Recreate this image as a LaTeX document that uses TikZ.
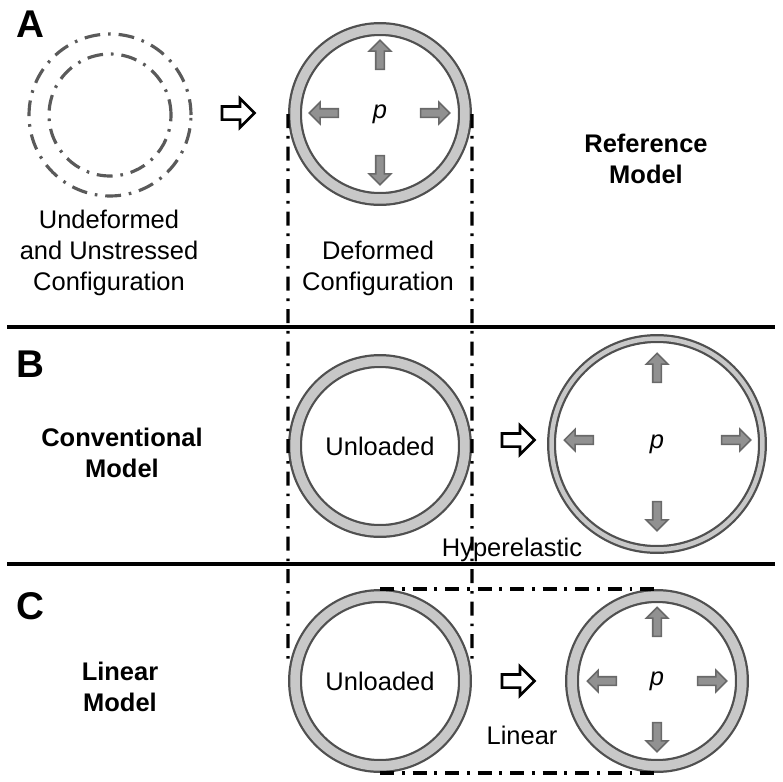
\documentclass[tikz,border=0pt]{standalone}
\usepackage{fontspec}
\setmainfont{Liberation Sans}
\usetikzlibrary{shapes.arrows}

\definecolor{ringfill}{RGB}{200,200,200}
\definecolor{ringedge}{RGB}{80,80,80}
\definecolor{pushfill}{RGB}{145,145,145}
\definecolor{pushedge}{RGB}{105,105,105}
\definecolor{ghostgray}{RGB}{90,90,90}

\begin{document}
\begin{tikzpicture}[x=0.02cm, y=-0.02cm,
        ring/.style={circle, draw=ringedge, line width=0.045cm, double=ringfill, double distance=0.19cm, minimum size=3.4cm, outer sep=0.14cm, font=\fontsize{14.5}{17}\selectfont},
        bigring/.style={ring, double distance=0.09cm, minimum size=4.22cm, outer sep=0.09cm},
        ghost/.style={circle, draw=ghostgray, line width=1.8pt, dash pattern=on 9pt off 4.5pt on 1.5pt off 4.5pt, inner sep=0pt},
        push/.style={single arrow, draw=pushedge, fill=pushfill, line width=0.9pt, minimum height=0.58cm, minimum width=0.4cm, inner xsep=0pt, inner ysep=0.07cm, single arrow head extend=0.13cm},
        hollow/.style={single arrow, draw, fill=white, line width=1.5pt, minimum height=0.65cm, minimum width=0.53cm, inner xsep=0pt, inner ysep=0.105cm, single arrow head extend=0.16cm},
        guide/.style={line width=1.8pt, dash pattern=on 8pt off 4.5pt on 1.5pt off 4.5pt},
        rule/.style={line width=2pt},
        lbl/.style={align=center, font=\fontsize{14.5}{17.6}\selectfont},
        model/.style={align=center, font=\fontsize{14.5}{17.6}\selectfont\bfseries},
        panel/.style={font=\fontsize{22}{26}\selectfont\bfseries}]

        \useasboundingbox (0,0) rectangle (783,781);

        % Panel A (reference model)
        \node[panel] (pA) at (30,24) {A};
        \node[ghost, minimum size=3.24cm] (A0o) at (110,115) {};
        \node[ghost, minimum size=2.44cm] (A0i) at (110,115) {};
        \node[lbl] (A0t) at (109,253) {Undeformed\\and Unstressed\\Configuration};
        \node[hollow] (A01) at (235,113) {};
        \node[ring] (A2) at (380,114) {\textit{p}};
        \node[push, rotate=90] (A2u) at (380,57) {};
        \node[push, rotate=-90] (A2d) at (380,168) {};
        \node[push, rotate=180] (A2l) at (326,113) {};
        \node[push] (A2r) at (433,113) {};
        \node[lbl] (A2t) at (378,268) {Deformed\\Configuration};
        \node[model] (mA) at (646,159) {Reference\\Model};

        \draw[rule] (7,327) -- (775,327);

        % Panel B (conventional model)
        \node[panel] (pB) at (30,364) {B};
        \node[model] (mB) at (122,453) {Conventional\\Model};
        \node[ring] (B1) at (380,446) {Unloaded};
        \node[hollow] (B12) at (515,440) {};
        \node[bigring] (B2) at (657,444) {\textit{p}};
        \node[push, rotate=90] (B2u) at (657,370) {};
        \node[push, rotate=-90] (B2d) at (657,514) {};
        \node[push, rotate=180] (B2l) at (581,440) {};
        \node[push] (B2r) at (734,440) {};
        \node[lbl] (B2t) at (512,550) {Hyperelastic};

        \draw[rule] (7,564) -- (775,564);

        % Guides from the deformed state
        \coordinate (gl) at (288,664);
        \coordinate (gr) at (472,664);
        \draw[guide] (A2.west) -- (gl);
        \draw[guide] (A2.east) -- (gr);

        % Panel C (linear model)
        \node[panel] (pC) at (30,606) {C};
        \node[model] (mC) at (120,687) {Linear\\Model};
        \node[ring] (C1) at (380,681) {Unloaded};
        \node[hollow] (C12) at (515,681) {};
        \node[lbl] (C12t) at (522,735) {Linear};
        \node[ring] (C2) at (657,681) {\textit{p}};
        \node[push, rotate=90] (C2u) at (657,624) {};
        \node[push, rotate=-90] (C2d) at (657,735) {};
        \node[push, rotate=180] (C2l) at (604,681) {};
        \node[push] (C2r) at (710,681) {};
        \draw[guide] (C1.north) -- (C2.north);
        \draw[guide] (C1.south) -- (C2.south);
    \end{tikzpicture}
\end{document}
